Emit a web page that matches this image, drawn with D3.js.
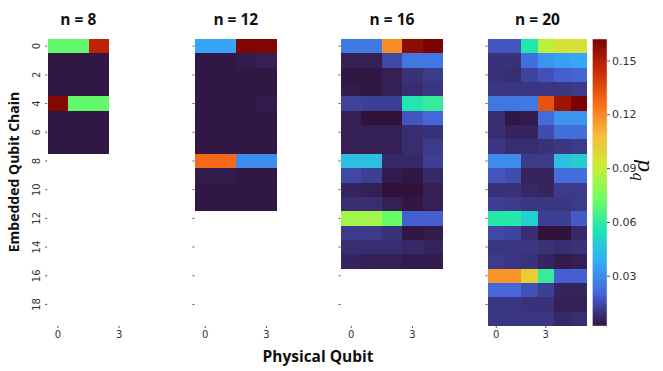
<!DOCTYPE html>
<html>
<head>
<meta charset="utf-8">
<script src="https://cdn.jsdelivr.net/npm/d3@7"></script>
<style>
  body { margin: 0; background: #fff; }
  svg { display: block; }
  .tick text { font-family: "DejaVu Sans", sans-serif; font-size: 10px; fill: #333; }
  .tick line { stroke: #555; }
  .title, .axis-label { font-family: "Open Sans", sans-serif; font-weight: 700; fill: #111; }
</style>
</head>
<body>
<svg id="chart" width="663" height="371"></svg>
<script>
(function(){

// chain lengths and per-qubit probabilities
let chainSizes = [8, 12, 16, 20];

let chain8 = [
  [0.070, 0.070, 0.147],
  [0.003, 0.003, 0.003],
  [0.003, 0.003, 0.003],
  [0.003, 0.003, 0.003],
  [0.160, 0.070, 0.070],
  [0.003, 0.003, 0.003],
  [0.003, 0.003, 0.003],
  [0.003, 0.003, 0.003]
];

let chain12 = [
  [0.036, 0.036, 0.161, 0.161],
  [0.003, 0.003, 0.004, 0.005],
  [0.003, 0.003, 0.003, 0.003],
  [0.003, 0.003, 0.003, 0.003],
  [0.003, 0.003, 0.003, 0.004],
  [0.003, 0.003, 0.003, 0.003],
  [0.003, 0.003, 0.003, 0.003],
  [0.003, 0.003, 0.003, 0.003],
  [0.127, 0.127, 0.030, 0.030],
  [0.004, 0.004, 0.003, 0.003],
  [0.003, 0.003, 0.003, 0.003],
  [0.003, 0.003, 0.003, 0.003]
];

let chain16 = [
  [0.026, 0.026, 0.119, 0.158, 0.162],
  [0.005, 0.005, 0.014, 0.025, 0.025],
  [0.003, 0.003, 0.005, 0.009, 0.011],
  [0.004, 0.003, 0.005, 0.008, 0.010],
  [0.013, 0.012, 0.012, 0.057, 0.061],
  [0.005, 0.002, 0.002, 0.017, 0.021],
  [0.005, 0.005, 0.005, 0.008, 0.009],
  [0.005, 0.005, 0.005, 0.008, 0.011],
  [0.044, 0.044, 0.007, 0.007, 0.012],
  [0.014, 0.012, 0.004, 0.003, 0.007],
  [0.006, 0.005, 0.002, 0.002, 0.005],
  [0.008, 0.008, 0.005, 0.003, 0.005],
  [0.083, 0.083, 0.071, 0.019, 0.019],
  [0.011, 0.011, 0.009, 0.003, 0.004],
  [0.008, 0.008, 0.008, 0.007, 0.006],
  [0.006, 0.005, 0.005, 0.004, 0.004]
];

let chain20 = [
  [0.017, 0.017, 0.057, 0.088, 0.096, 0.096],
  [0.009, 0.009, 0.023, 0.032, 0.035, 0.037],
  [0.009, 0.008, 0.013, 0.016, 0.019, 0.020],
  [0.010, 0.010, 0.010, 0.010, 0.010, 0.011],
  [0.025, 0.025, 0.025, 0.133, 0.154, 0.162],
  [0.008, 0.003, 0.004, 0.022, 0.032, 0.032],
  [0.008, 0.006, 0.006, 0.015, 0.023, 0.023],
  [0.010, 0.008, 0.008, 0.009, 0.010, 0.011],
  [0.030, 0.030, 0.011, 0.011, 0.044, 0.048],
  [0.017, 0.015, 0.006, 0.006, 0.023, 0.023],
  [0.009, 0.009, 0.007, 0.006, 0.011, 0.011],
  [0.012, 0.011, 0.010, 0.010, 0.010, 0.011],
  [0.058, 0.058, 0.049, 0.012, 0.012, 0.018],
  [0.014, 0.013, 0.008, 0.002, 0.002, 0.007],
  [0.010, 0.010, 0.010, 0.009, 0.008, 0.009],
  [0.011, 0.010, 0.009, 0.006, 0.004, 0.005],
  [0.117, 0.117, 0.102, 0.061, 0.019, 0.019],
  [0.021, 0.021, 0.016, 0.012, 0.006, 0.006],
  [0.010, 0.010, 0.009, 0.009, 0.005, 0.005],
  [0.010, 0.010, 0.010, 0.010, 0.007, 0.008]
];

let chains = [chain8, chain12, chain16, chain20];

let rowTicks = [0, 2, 4, 6, 8, 10, 12, 14, 16, 18];
let colTicks = [0, 3];
let colorTicks = [0.03, 0.06, 0.09, 0.12, 0.15];
let valueRange = [0.002, 0.162];

// turbo (matplotlib) stops
let turbo = ["#30123b", "#4662d7", "#36aaf9", "#1ae4b6", "#72fe5e",
             "#c7ef34", "#faba39", "#f66b19", "#ca2a04", "#7a0403"];

let svg = d3.select("#chart");

let top = 39, bottom = 326;
let panelLeft = [47.7, 195, 341, 488];
let panelCols = [5, 5, 5, 6];
let panelWidth = [102, 102, 102, 99];

let y = d3.scaleBand().domain(d3.range(20)).range([top, bottom]);

let color = d3.scaleLinear()
  .domain(turbo.map((c, i) => valueRange[0] + (valueRange[1] - valueRange[0]) * i / (turbo.length - 1)))
  .range(turbo)
  .interpolate(d3.interpolateRgb)
  .clamp(true);

chains.forEach((grid, p) => {
  let x = d3.scaleBand()
    .domain(d3.range(panelCols[p]))
    .range([panelLeft[p], panelLeft[p] + panelWidth[p]]);

  let g = svg.append("g")
    .attr("shape-rendering", "crispEdges");

  let cells = [];
  grid.forEach((row, r) => row.forEach((v, c) => cells.push({r: r, c: c, v: v})));

  g.selectAll("rect")
    .data(cells)
    .enter()
    .append("rect")
      .attr("x", d => Math.round(x(d.c)))
      .attr("y", d => Math.round(y(d.r)))
      .attr("width", d => Math.round(x(d.c) + x.bandwidth()) - Math.round(x(d.c)))
      .attr("height", d => Math.round(y(d.r) + y.bandwidth()) - Math.round(y(d.r)))
      .attr("fill", d => color(d.v));

  // title centred over the drawn columns
  let cols = grid[0].length;
  svg.append("text")
    .attr("class", "title")
    .attr("x", x(0) + cols * x.bandwidth() / 2)
    .attr("y", 25)
    .attr("text-anchor", "middle")
    .style("font-size", "15.5px")
    .text("n = " + chainSizes[p]);

  // y axis: labels only on the first panel
  let yAxis = svg.append("g")
    .attr("transform", "translate(" + (panelLeft[p] - 0.5) + ",0)")
    .call(d3.axisLeft(y).tickValues(rowTicks).tickSize(2).tickPadding(3));
  yAxis.select(".domain").remove();
  yAxis.selectAll(".tick line").attr("stroke", "#888");
  if (p === 0) {
    yAxis.selectAll(".tick text")
      .attr("transform", "rotate(-90)")
      .attr("text-anchor", "middle")
      .attr("dy", 0)
      .attr("x", 0)
      .attr("y", -7);
  } else {
    yAxis.selectAll(".tick text").remove();
  }

  let xAxis = svg.append("g")
    .attr("transform", "translate(0," + bottom + ")")
    .call(d3.axisBottom(x).tickValues(colTicks).tickSize(2).tickPadding(3));
  xAxis.select(".domain").remove();
  xAxis.selectAll(".tick line").attr("stroke", "#888");
});

// colorbar
let cbX = 592.5, cbW = 14.5;
let cy = d3.scaleLinear().domain(valueRange).range([bottom, top]);

let defs = svg.append("defs");
let grad = defs.append("linearGradient")
  .attr("id", "cbar")
  .attr("x1", 0).attr("y1", 1).attr("x2", 0).attr("y2", 0);
grad.selectAll("stop")
  .data(turbo)
  .enter()
  .append("stop")
    .attr("offset", (d, i) => i / (turbo.length - 1))
    .attr("stop-color", d => d);

svg.append("rect")
  .attr("x", cbX)
  .attr("y", top)
  .attr("width", cbW)
  .attr("height", bottom - top)
  .attr("fill", "url(#cbar)")
  .attr("stroke", "#ddd")
  .attr("stroke-width", 0.5);

let cAxis = svg.append("g")
  .attr("transform", "translate(" + (cbX + cbW) + ",0)")
  .call(d3.axisRight(cy).tickValues(colorTicks).tickFormat(d3.format(".2f")).tickSize(3).tickPadding(2));
cAxis.select(".domain").remove();
cAxis.selectAll(".tick text").style("font-size", "11px");

// colorbar label p_q
let lab = svg.append("text")
  .attr("transform", "translate(638,170) rotate(90)")
  .attr("text-anchor", "middle")
  .style("font-family", "'DejaVu Serif', serif")
  .style("font-style", "italic")
  .style("font-size", "20px")
  .style("fill", "#111");
lab.append("tspan").text("p");
lab.append("tspan").attr("dy", 5).style("font-size", "14px").text("q");

// axis titles
svg.append("text")
  .attr("class", "axis-label")
  .attr("x", 318)
  .attr("y", 362)
  .attr("text-anchor", "middle")
  .style("font-size", "15.5px")
  .text("Physical Qubit");

svg.append("text")
  .attr("class", "axis-label")
  .attr("transform", "translate(19,172) rotate(-90)")
  .attr("text-anchor", "middle")
  .style("font-size", "14px")
  .text("Embedded Qubit Chain");

})();
</script>
</body>
</html>
